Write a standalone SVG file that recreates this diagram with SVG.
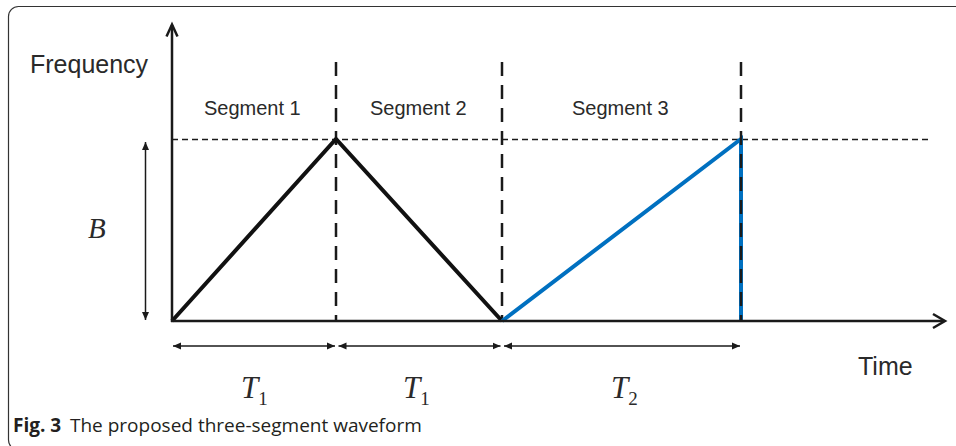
<svg xmlns="http://www.w3.org/2000/svg" width="956" height="446" viewBox="0 0 956 446">
<style>
.lbl{font-family:"Liberation Sans",Arial,sans-serif;fill:#2a2a2a}
.math{font-family:"Liberation Serif","Times New Roman",serif;font-style:italic;fill:#2a2a2a}
.sub{font-family:"Liberation Serif","Times New Roman",serif;fill:#2a2a2a}
.cap{font-family:"Open Sans","Noto Sans",sans-serif;font-size:19px;fill:#231f20}
.axis{stroke:#1a1a1a;stroke-width:2.5;fill:none}
.vdash{stroke:#1a1a1a;stroke-width:2.5;stroke-dasharray:14 9;fill:none}
.hdash{stroke:#1a1a1a;stroke-width:1.5;stroke-dasharray:6 4;fill:none}
.dim{stroke:#1a1a1a;stroke-width:1.5;fill:none;marker-start:url(#ah);marker-end:url(#ah)}
</style>
<defs>
<marker id="ah" markerUnits="userSpaceOnUse" markerWidth="9" markerHeight="8" refX="8" refY="4" orient="auto-start-reverse" viewBox="0 0 9 8">
<path d="M0,0.5 L8,4 L0,7.5 z" fill="#1a1a1a"/>
</marker>
</defs>
<rect id="frame" x="8.5" y="6.5" width="970" height="443.5" rx="10" fill="#fff" stroke="#333" stroke-width="1.2"/>
<g id="guides">
<line class="hdash" x1="172" y1="139.5" x2="932" y2="139.5"/>
<line class="vdash" x1="336" y1="62" x2="336" y2="320"/>
<line class="vdash" x1="502" y1="62" x2="502" y2="320"/>
</g>
<g id="waveform">
<polyline points="172,321 336,139 502,321" fill="none" stroke="#111" stroke-width="4" stroke-linejoin="miter"/>
<polyline points="502,321 741,139 741,321" fill="none" stroke="#0070c0" stroke-width="4"/>
<line class="vdash" x1="741" y1="62" x2="741" y2="320" stroke-width="2"/>
</g>
<g id="axes">
<line class="axis" x1="172" y1="322" x2="172" y2="25"/>
<path class="axis" d="M166.5,36.5 L172,24.5 L177.5,36.5"/>
<line class="axis" x1="171" y1="321" x2="944" y2="321"/>
<path class="axis" d="M933,314 L945,321 L933,328"/>
</g>
<g id="connectors">
<line class="dim" x1="145.5" y1="142" x2="145.5" y2="320"/>
<line class="dim" x1="173" y1="346" x2="335" y2="346"/>
<line class="dim" x1="338.5" y1="346" x2="500.5" y2="346"/>
<line class="dim" x1="504" y1="346" x2="740" y2="346"/>
</g>
<g id="labels">
<text class="lbl" x="30" y="73" font-size="25">Frequency</text>
<text class="lbl" x="204" y="115" font-size="20">Segment 1</text>
<text class="lbl" x="370" y="115" font-size="20">Segment 2</text>
<text class="lbl" x="572" y="115" font-size="20">Segment 3</text>
<text class="lbl" x="858" y="375" font-size="25">Time</text>
<text class="math" x="88" y="238" font-size="29">B</text>
<text class="math" x="241" y="398" font-size="31">T<tspan class="sub" font-style="normal" font-size="19" dy="7">1</tspan></text>
<text class="math" x="403" y="398" font-size="31">T<tspan class="sub" font-style="normal" font-size="19" dy="7">1</tspan></text>
<text class="math" x="611" y="398" font-size="31">T<tspan class="sub" font-style="normal" font-size="19" dy="7">2</tspan></text>
</g>
<g id="caption">
<text class="cap" x="13" y="432"><tspan font-weight="bold">Fig. 3</tspan><tspan x="70">The proposed three-segment waveform</tspan></text>
</g>
</svg>
